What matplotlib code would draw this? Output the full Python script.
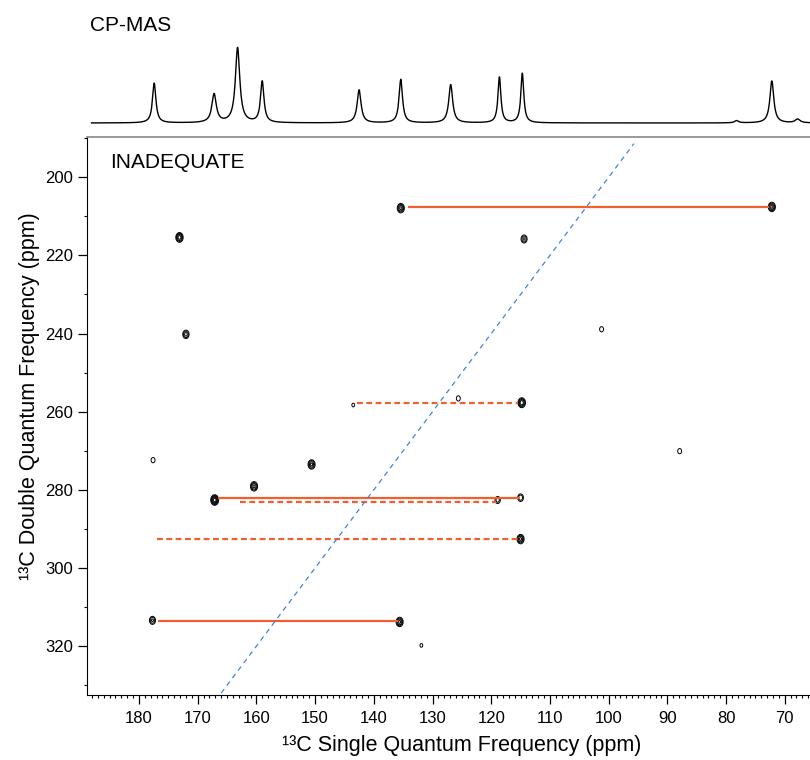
"""CP-MAS spectrum over a 13C INADEQUATE correlation map."""

import matplotlib
matplotlib.use("Agg")
import matplotlib.pyplot as plt
import numpy as np
from matplotlib.ticker import MultipleLocator

plt.rcParams["font.family"] = ["Liberation Sans", "DejaVu Sans"]

# 1D CP-MAS peaks: position (ppm), relative height, half width (ppm)
cp_pos = [177.4, 167.2, 163.2, 159.0, 142.5, 135.4, 126.9, 118.6, 114.7, 78.2, 72.2, 67.8]
cp_height = [0.53, 0.38, 1.0, 0.55, 0.44, 0.58, 0.51, 0.61, 0.66, 0.03, 0.56, 0.05]
cp_width = [0.35, 0.45, 0.45, 0.35, 0.4, 0.35, 0.4, 0.3, 0.3, 0.4, 0.4, 0.5]

# 2D cross peaks: single quantum (ppm), double quantum (ppm), intensity
xp_sq = [135.4, 72.2, 173.1, 114.4, 172.0, 101.2, 114.8, 143.5, 125.6, 177.6,
         150.6, 160.4, 167.1, 118.9, 115.0, 115.0, 177.7, 135.6, 131.9, 87.9]
xp_dq = [207.9, 207.6, 215.4, 215.8, 240.2, 238.9, 257.7, 258.3, 256.6, 272.4,
         273.5, 279.1, 282.6, 282.6, 282.0, 292.6, 313.4, 313.8, 319.8, 270.1]
xp_int = [0.6, 0.6, 0.7, 0.35, 0.4, 0.15, 0.75, 0.11, 0.15, 0.15,
          0.6, 0.6, 1.0, 0.25, 0.3, 0.6, 0.35, 0.6, 0.11, 0.15]

# connectivity lines: DQ frequency, SQ start, SQ end
solid_dq = [207.7, 282.0, 313.6]
solid_from = [134.1, 166.5, 176.7]
solid_to = [72.6, 115.1, 135.9]
dashed_dq = [257.7, 283.0, 292.5]
dashed_from = [142.8, 162.8, 176.9]
dashed_to = [115.4, 119.2, 115.4]

# diagonal DQ = 2 * SQ
diag_sq = [166.0, 95.7]

RED = "#f0602f"
BLUE = "#3f86d8"

W, H = 810, 760
fig = plt.figure(figsize=(W / 100, H / 100), dpi=100)

left = 87.3 / W
ax = fig.add_axes([left, 1 - 695 / H, 1.0 - left, (695 - 137) / H])
top = fig.add_axes([left, 1 - 135 / H, 1.0 - left, 105 / H], sharex=ax)

xlim = (188.8, 65.7)
ylim = (332.5, 189.7)

# contour map
gx = np.arange(65.0, 190.0, 0.08)
gy = np.arange(188.0, 334.0, 0.15)
X, Y = np.meshgrid(gx, gy)
Z = np.zeros_like(X)
for sx, dy, a in zip(xp_sq, xp_dq, xp_int):
    Z += a * np.exp(-((X - sx) ** 2) / (2 * 0.3 ** 2) - ((Y - dy) ** 2) / (2 * 0.6 ** 2))
ax.contour(X, Y, Z, levels=[0.08, 0.16, 0.3, 0.5, 0.75], colors="black", linewidths=0.7)

for d, a, b in zip(solid_dq, solid_from, solid_to):
    ax.plot([a, b], [d, d], color=RED, lw=1.6, solid_capstyle="butt")
for d, a, b in zip(dashed_dq, dashed_from, dashed_to):
    ax.plot([a, b], [d, d], color=RED, lw=1.6, linestyle=(0, (2.6, 1.6)))
ax.plot(diag_sq, [2 * v for v in diag_sq], color=BLUE, lw=0.9, linestyle=(0, (4, 3.5)))

ax.set_xlim(*xlim)
ax.set_ylim(*ylim)
ax.xaxis.set_major_locator(MultipleLocator(10))
ax.xaxis.set_minor_locator(MultipleLocator(1))
ax.yaxis.set_major_locator(MultipleLocator(20))
ax.yaxis.set_minor_locator(MultipleLocator(10))
ax.tick_params(which="major", direction="out", length=6.5, width=0.9, labelsize=12, pad=4)
ax.tick_params(which="minor", direction="out", length=2.5, width=0.8)
ax.tick_params(axis="x", which="major", pad=5)
ax.spines["right"].set_visible(False)
ax.spines["top"].set_color("#888888")
ax.spines["top"].set_linewidth(1.2)
ax.set_xlabel("¹³C Single Quantum Frequency (ppm)", fontsize=15.5)
ax.set_ylabel("¹³C Double Quantum Frequency (ppm)", fontsize=15.5)
ax.xaxis.set_label_coords(0.518, -0.072)
ax.yaxis.set_label_coords(-0.066, 0.535)

# 1D CP-MAS projection
sx = np.arange(65.0, 188.1, 0.02)
spec = np.zeros_like(sx)
for p, h, w in zip(cp_pos, cp_height, cp_width):
    spec += h * w ** 2 / ((sx - p) ** 2 + w ** 2)
top.plot(sx, spec, color="black", lw=1.0)
top.set_ylim(-0.16, 1.24)
top.axis("off")

fig.text(90 / W, 1 - 31 / H, "CP-MAS", fontsize=15, va="baseline")
fig.text(110 / W, 1 - 168 / H, "INADEQUATE", fontsize=15, va="baseline")

fig.savefig("out.png", dpi=100)
